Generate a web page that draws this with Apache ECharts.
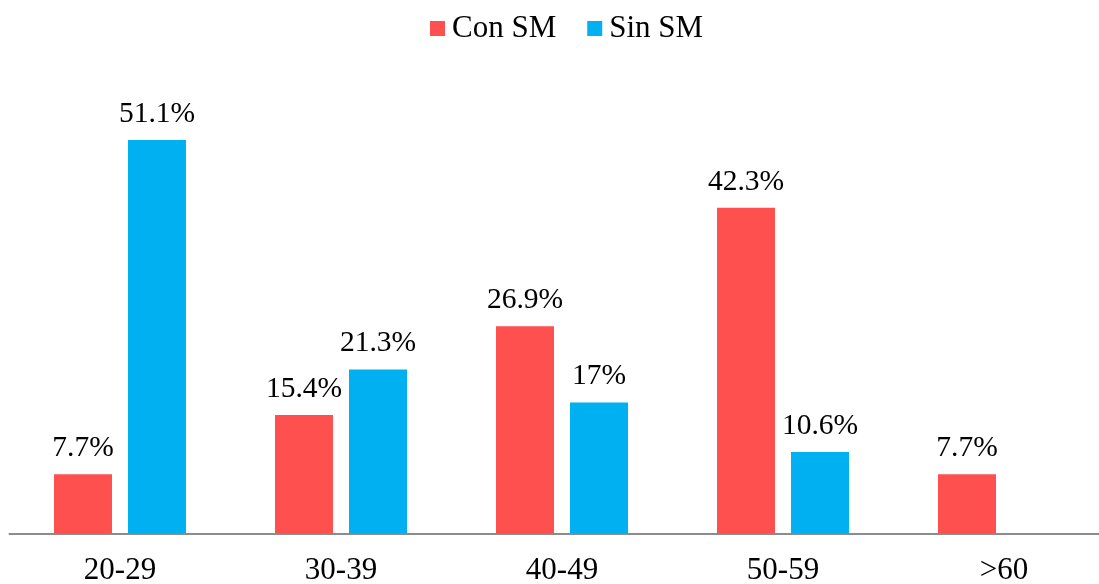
<!DOCTYPE html>
<html>
<head>
<meta charset="utf-8">
<script src="https://cdn.jsdelivr.net/npm/echarts@6/dist/echarts.min.js"></script>
<style>html,body{margin:0;padding:0;background:#fff}#c{width:1099px;height:584px}</style>
</head>
<body>
<div id="c"></div>
<script>
const categories = ['20-29', '30-39', '40-49', '50-59', '>60'];
const conSM = [7.7, 15.4, 26.9, 42.3, 7.7];
const sinSM = [51.1, 21.3, 17, 10.6, null];
const seriesNames = ['Con SM', 'Sin SM'];

const FONT = "'Liberation Serif', 'Times New Roman', serif";
const chart = echarts.init(document.getElementById('c'));
const labelCfg = {
  show: true, position: 'top', distance: 11,
  color: '#000', fontFamily: FONT, fontSize: 29.5,
  formatter: p => p.value + '%'
};
chart.setOption({
  animation: false,
  textStyle: { fontFamily: FONT },
  legend: {
    data: seriesNames, left: 425, top: 8,
    icon: 'rect', itemWidth: 15, itemHeight: 15, itemGap: 31,
    textStyle: { fontFamily: FONT, fontSize: 31, color: '#000', padding: [0, 0, 0, 2] }
  },
  grid: { left: 9.5, width: 1105, top: 71.5, height: 462, containLabel: false, outerBoundsMode: 'none' },
  xAxis: {
    type: 'category', data: categories,
    axisLine: { lineStyle: { color: '#8c8c8c', width: 2 } },
    axisTick: { show: false },
    axisLabel: { color: '#000', fontFamily: FONT, fontSize: 31, margin: 22 }
  },
  yAxis: { type: 'value', min: 0, max: 60, show: false, splitLine: { show: false } },
  series: [
    { name: seriesNames[0], type: 'bar', data: conSM, barWidth: 58, barGap: '27.6%',
      itemStyle: { color: '#FF5050' }, label: labelCfg },
    { name: seriesNames[1], type: 'bar', data: sinSM, barWidth: 58,
      itemStyle: { color: '#00B0F0' }, label: labelCfg }
  ]
});
</script>
</body>
</html>
